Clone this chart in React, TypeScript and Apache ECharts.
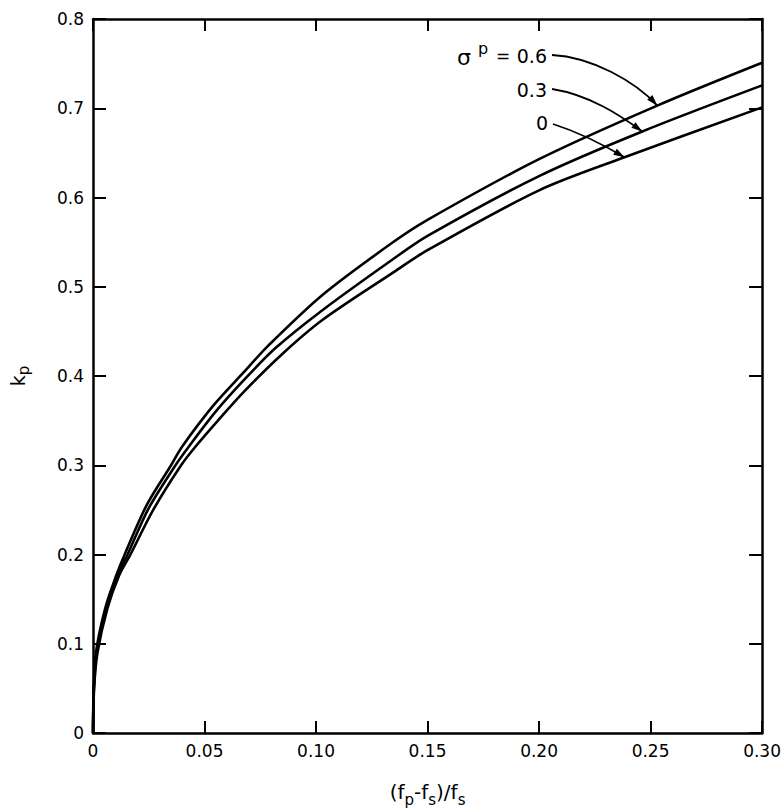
import React, { useEffect, useRef } from "react";
import * as echarts from "echarts";

// x = (fp - fs)/fs , y = kp
const curveSigma06: [number, number][] = [
  [0, 0], [0.0003, 0.05], [0.0013, 0.09], [0.0055, 0.14], [0.0105, 0.177], [0.0142, 0.2],
  [0.024, 0.255], [0.035, 0.3], [0.04, 0.321], [0.054, 0.367], [0.0675, 0.404],
  [0.0786, 0.434], [0.103, 0.491], [0.134, 0.549], [0.15, 0.575], [0.2, 0.643],
  [0.253, 0.703], [0.3, 0.751],
];
const curveSigma03: [number, number][] = [
  [0, 0], [0.0004, 0.05], [0.0017, 0.09], [0.006, 0.14], [0.011, 0.177], [0.0155, 0.2],
  [0.025, 0.252], [0.037, 0.3], [0.043, 0.321], [0.055, 0.36], [0.0675, 0.395],
  [0.0817, 0.431], [0.103, 0.474], [0.134, 0.53], [0.15, 0.557], [0.2, 0.624],
  [0.2463, 0.674], [0.3, 0.7256],
];
const curveSigma0: [number, number][] = [
  [0, 0], [0.0005, 0.05], [0.002, 0.09], [0.0065, 0.14], [0.0118, 0.177], [0.0168, 0.2],
  [0.027, 0.25], [0.0395, 0.3], [0.046, 0.321], [0.056, 0.35], [0.0675, 0.382],
  [0.085, 0.425], [0.103, 0.463], [0.134, 0.515], [0.15, 0.541], [0.2, 0.608],
  [0.2383, 0.645], [0.3, 0.701],
];
const sigmaLabels = ["0.6", "0.3", "0"];
// points on each curve where the leader arrows end
const arrowTips: [number, number][] = [
  [0.253, 0.703],
  [0.2463, 0.674],
  [0.2383, 0.645],
];
const xMin = 0, xMax = 0.3, xStep = 0.05;
const yMin = 0, yMax = 0.8, yStep = 0.1;

const FONT = "DejaVu Sans";

export default function App() {
  const ref = useRef<HTMLDivElement>(null);
  useEffect(() => {
    document.body.style.margin = "0";
    const chart = echarts.init(ref.current!, null, { renderer: "svg" });
    const axisLine = { show: true, onZero: false, lineStyle: { color: "#000", width: 2.5 } };
    const tick = (len: number) => ({ show: true, inside: true, length: len, lineStyle: { color: "#000", width: 2 } });
    const lineSeries = (name: string, data: [number, number][]) => ({
      type: "line",
      name,
      data,
      showSymbol: false,
      smooth: 0.3,
      lineStyle: { color: "#000", width: 2.6 },
      z: 3,
    });
    chart.setOption({
      animation: false,
      backgroundColor: "#fff",
      grid: { left: 88, right: 20, top: 19, bottom: 73, containLabel: false },
      xAxis: [
        {
          type: "value", min: xMin, max: xMax, interval: xStep, position: "bottom",
          axisLine, axisTick: tick(12), splitLine: { show: false },
          axisLabel: {
            color: "#000", fontSize: 17, fontFamily: FONT, margin: 9,
            formatter: (v: number) => (v === 0 ? "0" : v.toFixed(2)),
          },
          name: "{t|(f}{s|p}{t|-f}{s|s}{t|)/f}{s|s}",
          nameLocation: "middle",
          nameGap: 44,
          nameTextStyle: {
            rich: {
              t: { fontSize: 20, fontFamily: FONT, color: "#000", lineHeight: 30, verticalAlign: "middle" },
              s: { fontSize: 15, fontFamily: FONT, color: "#000", lineHeight: 15, verticalAlign: "bottom" },
            },
          },
        },
        {
          type: "value", min: xMin, max: xMax, interval: xStep, position: "top",
          axisLine, axisTick: tick(12), axisLabel: { show: false }, splitLine: { show: false },
        },
      ],
      yAxis: [
        {
          type: "value", min: yMin, max: yMax, interval: yStep, position: "left",
          axisLine, axisTick: tick(13), splitLine: { show: false },
          axisLabel: {
            color: "#000", fontSize: 17, fontFamily: FONT, margin: 9,
            formatter: (v: number) => (v === 0 ? "0" : v.toFixed(1)),
          },
          name: "{t|k}{s|p}",
          nameLocation: "middle",
          nameRotate: 90,
          nameGap: 62,
          nameTextStyle: {
            rich: {
              t: { fontSize: 19, fontFamily: FONT, color: "#000", lineHeight: 27, verticalAlign: "middle" },
              s: { fontSize: 15, fontFamily: FONT, color: "#000", lineHeight: 15, verticalAlign: "bottom" },
            },
          },
        },
        {
          type: "value", min: yMin, max: yMax, interval: yStep, position: "right",
          axisLine, axisTick: tick(13), axisLabel: { show: false }, splitLine: { show: false },
        },
      ],
      series: [
        lineSeries("σp = 0.6", curveSigma06),
        lineSeries("σp = 0.3", curveSigma03),
        lineSeries("σp = 0", curveSigma0),
      ],
    });

    // leader lines with arrowheads from labels to curves
    const starts: [number, number][] = [[552, 55], [552, 89], [553, 124]];
    const cp1Off: [number, number][] = [[40, 2], [38, 6], [25, 8]];
    const cp2Off: [number, number][] = [[-22, -24], [-22, -16], [-20, -12]];
    const graphics: any[] = [];
    arrowTips.forEach((tip, i) => {
      const p = chart.convertToPixel({ gridIndex: 0 }, tip) as number[];
      const [sx, sy] = starts[i];
      const c1 = [sx + cp1Off[i][0], sy + cp1Off[i][1]];
      const c2 = [p[0] + cp2Off[i][0], p[1] + cp2Off[i][1]];
      graphics.push({
        type: "bezierCurve",
        shape: { x1: sx, y1: sy, cpx1: c1[0], cpy1: c1[1], cpx2: c2[0], cpy2: c2[1], x2: p[0], y2: p[1] },
        style: { stroke: "#000", lineWidth: 1.8, fill: "none" },
        z: 10,
      });
      const dx = p[0] - c2[0], dy = p[1] - c2[1];
      const L = Math.hypot(dx, dy) || 1;
      const ux = dx / L, uy = dy / L;
      const len = 11, w = 3.5;
      const bx = p[0] - ux * len, by = p[1] - uy * len;
      graphics.push({
        type: "polygon",
        shape: { points: [[p[0], p[1]], [bx - uy * w, by + ux * w], [bx + uy * w, by - ux * w]] },
        style: { fill: "#000" },
        z: 10,
      });
    });
    const txt = (text: string, x: number, y: number, size: number, align = "left") => ({
      type: "text",
      style: {
        text, x, y, fill: "#000", fontSize: size, fontFamily: FONT,
        align, verticalAlign: "middle", textAlign: align, textVerticalAlign: "middle",
      },
      z: 10,
    });
    graphics.push(txt("σ", 457, 57, 22));
    graphics.push(txt("p", 478, 48, 16));
    graphics.push(txt("=", 496, 56, 17));
    graphics.push(txt(sigmaLabels[0], 547, 56, 19, "right"));
    graphics.push(txt(sigmaLabels[1], 547, 90, 19, "right"));
    graphics.push(txt(sigmaLabels[2], 548, 123, 19, "right"));
    chart.setOption({ graphic: graphics });

    return () => chart.dispose();
  }, []);
  return <div ref={ref} style={{ width: 784, height: 812 }} />;
}
